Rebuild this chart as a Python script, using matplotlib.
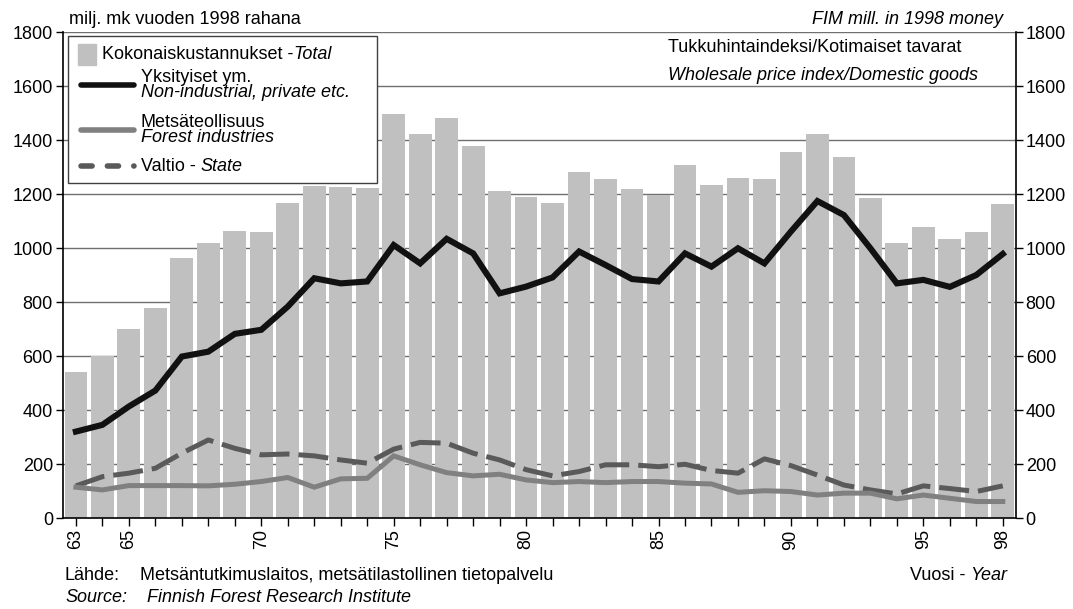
"""Forest management costs 1963-1998 by owner group -> out.png."""

import matplotlib

matplotlib.use("Agg")
import matplotlib.pyplot as plt
from matplotlib.lines import Line2D
from matplotlib.offsetbox import AnchoredOffsetbox, DrawingArea, HPacker, TextArea, VPacker
from matplotlib.patches import Rectangle

plt.rcParams["font.family"] = ["Liberation Sans", "DejaVu Sans"]
FS = 13

years = list(range(63, 99))
labelled_years = [63, 65, 70, 75, 80, 85, 90, 95, 98]

total = [540, 600, 700, 780, 965, 1020, 1065, 1062, 1167,
         1231, 1228, 1225, 1497, 1425, 1482, 1378, 1212, 1191,
         1167, 1284, 1258, 1219, 1197, 1308, 1235, 1260, 1258,
         1355, 1425, 1337, 1185, 1021, 1080, 1034, 1062, 1164]
private = [321, 346, 414, 473, 599, 617, 683, 698, 784,
           889, 870, 877, 1012, 944, 1035, 981, 833, 858,
           892, 988, 938, 886, 877, 981, 932, 1000, 944,
           1062, 1175, 1123, 1000, 870, 883, 857, 901, 979]
forest_ind = [115, 105, 121, 121, 121, 120, 126, 136, 151,
              115, 146, 148, 231, 198, 169, 157, 163, 142,
              132, 136, 132, 136, 136, 130, 127, 96, 102,
              99, 86, 93, 93, 72, 86, 74, 62, 62]
state = [120, 154, 167, 185, 241, 290, 259, 235, 238,
         231, 216, 204, 256, 281, 278, 241, 216, 180,
         157, 173, 198, 198, 191, 200, 177, 167, 220,
         195, 160, 123, 105, 90, 120, 110, 99, 120]

BAR_C = "#c0c0c0"
BLACK = "#111111"
GRAY = "#808080"
DARK = "#5a5a5a"

fig = plt.figure(figsize=(10.73, 6.09), dpi=100)
ax = fig.add_axes([0.0584, 0.149, 0.8885, 0.798])

ax.bar(years, total, width=0.86, color=BAR_C, zorder=2)
ax.plot(years, state, color=DARK, lw=3.6, dashes=(6, 1.8), dash_capstyle="butt",
        solid_joinstyle="miter", zorder=3)
ax.plot(years, forest_ind, color=GRAY, lw=3.6, solid_joinstyle="miter", zorder=4)
ax.plot(years, private, color=BLACK, lw=4.4, solid_joinstyle="miter", zorder=5)

ax.set_xlim(62.5, 98.5)
ax.set_ylim(0, 1800)
ax.set_yticks(range(0, 1801, 200))
ax.set_xticks(years)
ax.set_xticklabels([str(y) if y in labelled_years else "" for y in years],
                   rotation=90, fontsize=FS)
ax.tick_params(axis="x", length=6, width=1, pad=2)
ax.tick_params(axis="y", length=5, width=1, pad=2, labelsize=FS)
ax.grid(axis="y", color="#707070", lw=1, zorder=1)
ax.set_axisbelow(True)
for s in ("top", "right"):
    ax.spines[s].set_visible(False)
for s in ("left", "bottom"):
    ax.spines[s].set_linewidth(1.2)

ax2 = ax.twinx()
ax2.set_ylim(0, 1800)
ax2.set_yticks(range(0, 1801, 200))
ax2.tick_params(axis="y", length=5, width=1, pad=2, labelsize=FS)
for s in ("top", "left", "bottom"):
    ax2.spines[s].set_visible(False)
ax2.spines["right"].set_linewidth(1.2)


# legend built from packed boxes so one entry can mix upright and italic text
def _txt(s, italic=False):
    return TextArea(s, textprops=dict(fontsize=FS, fontstyle="italic" if italic else "normal"))


def _line_handle(color, lw, dashes=None):
    da = DrawingArea(44, 12, 0, 0)
    ln = Line2D([3, 41.5], [6, 6], color=color, lw=lw, solid_capstyle="round",
                dash_capstyle="round")
    if dashes:
        ln.set_dashes(dashes)
    da.add_artist(ln)
    return da


def _two_lines(a, b):
    return VPacker(children=[_txt(a), _txt(b, True)], sep=-1.5, pad=0, align="left")


def _gap(h):
    return DrawingArea(1, h, 0, 0)


patch_da = DrawingArea(16, 15, 0, 0)
patch_da.add_artist(Rectangle((1, 0), 13, 15, color=BAR_C))

rows = [
    HPacker(children=[patch_da, HPacker(children=[_txt("Kokonaiskustannukset -"),
                                                  _txt("Total", True)], sep=0, pad=0)],
            sep=2, pad=0, align="center"),
    _gap(2.5),
    HPacker(children=[_line_handle(BLACK, 4.0), _two_lines("Yksityiset ym.",
                                                          "Non-industrial, private etc.")],
            sep=2, pad=0, align="center"),
    _gap(9.5),
    HPacker(children=[_line_handle(GRAY, 4.0), _two_lines("Metsäteollisuus",
                                                         "Forest industries")],
            sep=2, pad=0, align="center"),
    _gap(8.5),
    HPacker(children=[_line_handle(DARK, 4.0, dashes=(2.0, 2.75)),
                      HPacker(children=[_txt("Valtio - "), _txt("State", True)], sep=0, pad=0)],
            sep=2, pad=0, align="center"),
]
content = HPacker(children=[VPacker(children=rows, sep=0, pad=0, align="left"),
                            DrawingArea(14, 1, 0, 0)], sep=0, pad=0, align="top")
leg = AnchoredOffsetbox(loc="upper left", child=content,
                        pad=0.6, borderpad=0, frameon=True,
                        bbox_to_anchor=(0.006, 0.992), bbox_transform=ax.transAxes)
leg.patch.set_edgecolor("#404040")
leg.patch.set_linewidth(1.0)
leg.patch.set_boxstyle("square", pad=0)
leg.set_zorder(10)
ax2.add_artist(leg)

ax.text(0.635, 0.968, "Tukkuhintaindeksi/Kotimaiset tavarat", transform=ax.transAxes,
        fontsize=FS, va="center", zorder=10)
ax.text(0.635, 0.912, "Wholesale price index/Domestic goods", transform=ax.transAxes,
        fontsize=FS, style="italic", va="center", zorder=10)

fig.text(69 / 1073, 1 - 20 / 609, "milj. mk vuoden 1998 rahana", fontsize=FS, va="center")
fig.text(1003 / 1073, 1 - 20 / 609, "FIM mill. in 1998 money", fontsize=FS,
         style="italic", va="center", ha="right")

fig.text(65 / 1073, 1 - 575 / 609, "Lähde:", fontsize=FS, va="center")
fig.text(140 / 1073, 1 - 575 / 609, "Metsäntutkimuslaitos, metsätilastollinen tietopalvelu",
         fontsize=FS, va="center")
fig.text(65 / 1073, 1 - 598 / 609, "Source:", fontsize=FS, va="center", style="italic")
fig.text(147 / 1073, 1 - 598 / 609, "Finnish Forest Research Institute", fontsize=FS,
         va="center", style="italic")
fig.text(970 / 1073, 1 - 575 / 609, "Vuosi - ", fontsize=FS, va="center", ha="right")
fig.text(970 / 1073, 1 - 575 / 609, "Year", fontsize=FS, va="center", style="italic")

fig.savefig("out.png", dpi=100)
plt.close(fig)
